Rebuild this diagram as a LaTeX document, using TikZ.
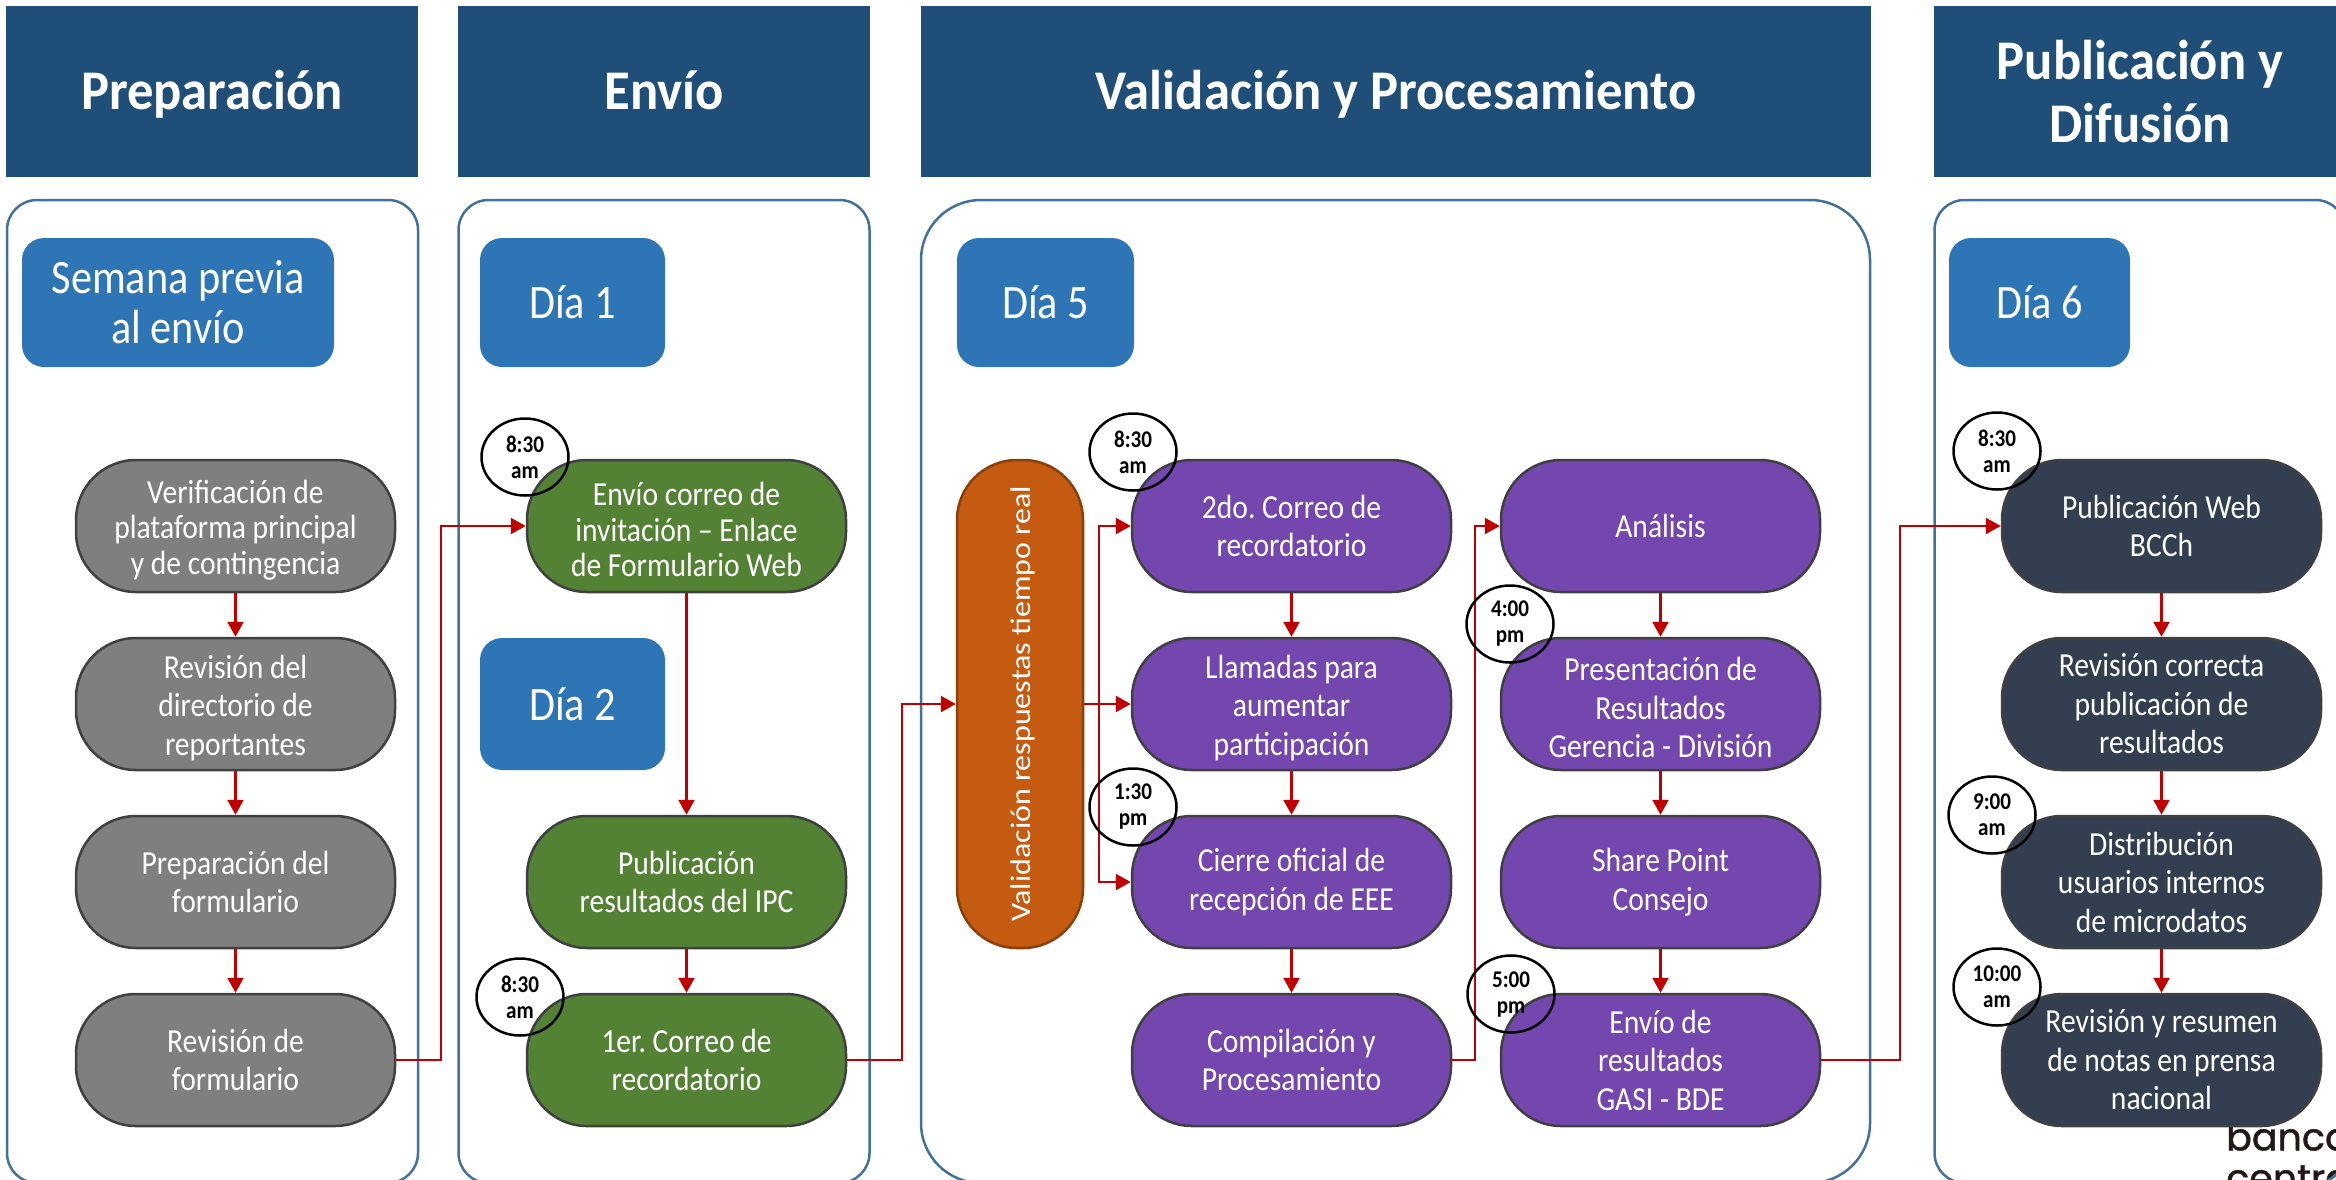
\documentclass[tikz,border=0pt]{standalone}
\usepackage{fontspec}
\setmainfont[FakeStretch=0.88]{Carlito}
\newfontfamily\widefont[FakeStretch=1.13]{Carlito}
\newfontfamily\headfont[FakeStretch=0.94]{Carlito}
\newfontfamily\logofont[FakeBold=1.2]{Poppins}
\newcommand{\lowline}{\rule{0pt}{31pt}}
\usetikzlibrary{arrows.meta,shapes.geometric}
\definecolor{head-blue}{HTML}{1F4E79}
\definecolor{day-blue}{HTML}{2E75B6}
\definecolor{panel-blue}{HTML}{41719C}
\definecolor{line-red}{HTML}{C00000}
\definecolor{step-gray}{HTML}{7F7F7F}
\definecolor{step-green}{HTML}{548235}
\definecolor{step-purple}{HTML}{7347AE}
\definecolor{step-dark}{HTML}{333F50}
\definecolor{step-orange}{HTML}{C55A11}
\definecolor{logo-black}{HTML}{231815}
\tikzstyle{head-node}=[fill=head-blue,text=white,font=\fontsize{56}{63}\headfont\bfseries,align=center,inner sep=0pt,minimum height=171pt]
\tikzstyle{head-line}=[text height=40pt,text depth=5pt]
\tikzstyle{panel-node}=[draw=panel-blue,line width=2.5pt,rounded corners=30pt,inner sep=0pt]
\tikzstyle{day-node}=[fill=day-blue,text=white,rounded corners=22pt,font=\fontsize{48}{50}\selectfont,align=center,inner sep=0pt]
\tikzstyle{step-node}=[draw=black!75,line width=2.5pt,text=white,rounded corners=60pt,font=\fontsize{33.6}{38.5}\selectfont,align=center,inner sep=0pt,minimum width=319pt,minimum height=132pt]
\tikzstyle{tight-text}=[font=\fontsize{33.6}{35.5}\selectfont]
\tikzstyle{time-node}=[draw=black,line width=2.5pt,ellipse,font=\fontsize{24}{26}\selectfont\bfseries,align=center,inner sep=0pt,minimum width=87pt,minimum height=77pt]
\tikzstyle{red-line}=[draw=line-red,line width=2.5pt]
\begin{document}
\frenchspacing
\begin{tikzpicture}[x=1pt,y=-1pt]
	\useasboundingbox (0,0) rectangle (2336,1179);
	\clip (0,0) rectangle (2336,1179);
	\node (l1)[anchor=north west,inner sep=0pt,align=left,text=logo-black,font=\fontsize{38}{41}\logofont] at (2226,1122) {banco\\central};
	\begin{scope}
	\node (p1)[panel-node,minimum width=411pt,minimum height=983pt] at (212.5,691.5) {};
	\node (p2)[panel-node,minimum width=411pt,minimum height=983pt] at (664,691.5) {};
	\node (p3)[panel-node,rounded corners=60pt,minimum width=949pt,minimum height=983pt] at (1395.5,691.5) {};
	\node (p4)[panel-node,minimum width=411pt,minimum height=983pt] at (2140,691.5) {};
	\end{scope}
	\begin{scope}
	\node (h1)[head-node,head-line,minimum width=412pt] at (212,91.5) {Preparación};
	\node (h2)[head-node,head-line,minimum width=412pt] at (664,91.5) {Envío};
	\node (h3)[head-node,head-line,minimum width=950pt] at (1396,91.5) {Validación y Procesamiento};
	\node (h4)[head-node,minimum width=412pt] at (2140,91.5) {Publicación y\\Difusión};
	\end{scope}
	\begin{scope}
	\node (d0)[day-node,minimum width=312pt,minimum height=129pt] at (178,302.5) {Semana previa\\al envío};
	\node (d1)[day-node,minimum width=185pt,minimum height=129pt] at (572.5,302.5) {Día 1};
	\node (d2)[day-node,minimum width=185pt,minimum height=132pt] at (572.5,704) {Día 2};
	\node (d5)[day-node,minimum width=177pt,minimum height=129pt] at (1045.5,302.5) {Día 5};
	\node (d6)[day-node,minimum width=181pt,minimum height=129pt] at (2039.5,302.5) {Día 6};
	\end{scope}
	\begin{scope}
	\node (g1)[step-node,tight-text,fill=step-gray] at (235.5,526) {\lowline Verificación de\\plataforma principal\\y de contingencia};
	\node (g2)[step-node,fill=step-gray] at (235.5,704) {\lowline Revisión del\\directorio de\\reportantes};
	\node (g3)[step-node,fill=step-gray] at (235.5,882) {Preparación del\\formulario};
	\node (g4)[step-node,fill=step-gray] at (235.5,1060) {Revisión de\\formulario};
	\node (e1)[step-node,tight-text,fill=step-green] at (686.5,526) {\lowline Envío correo de\\invitación – Enlace\\de Formulario Web};
	\node (e2)[step-node,fill=step-green] at (686.5,882) {Publicación\\resultados del IPC};
	\node (e3)[step-node,fill=step-green] at (686.5,1060) {1er. Correo de\\recordatorio};
	\node (v1)[step-node,draw=step-orange!70!black,fill=step-orange,minimum width=126pt,minimum height=488pt,font=\fontsize{28.3}{30}\widefont] at (1020,704) {\hspace*{6pt}\rotatebox{90}{Validación respuestas tiempo real}};
	\node (m1)[step-node,fill=step-purple] at (1291.5,526) {2do. Correo de\\recordatorio};
	\node (m2)[step-node,fill=step-purple] at (1291.5,704) {\lowline Llamadas para\\aumentar\\participación};
	\node (m3)[step-node,fill=step-purple] at (1291.5,882) {Cierre oficial de\\recepción de EEE};
	\node (m4)[step-node,fill=step-purple] at (1291.5,1060) {Compilación y\\Procesamiento};
	\node (n1)[step-node,fill=step-purple] at (1660.5,526) {Análisis};
	\node (n2)[step-node,fill=step-purple] at (1660.5,704) {\lowline Presentación de\\Resultados\\Gerencia - División};
	\node (n3)[step-node,fill=step-purple] at (1660.5,882) {Share Point\\Consejo};
	\node (n4)[step-node,fill=step-purple] at (1660.5,1060) {Envío de\\resultados\\GASI - BDE};
	\node (b1)[step-node,fill=step-dark] at (2161.5,526) {Publicación Web\\BCCh};
	\node (b2)[step-node,fill=step-dark] at (2161.5,704) {Revisión correcta\\publicación de\\resultados};
	\node (b3)[step-node,fill=step-dark] at (2161.5,882) {Distribución\\usuarios internos\\de microdatos};
	\node (b4)[step-node,fill=step-dark] at (2161.5,1060) {Revisión y resumen\\de notas en prensa\\nacional};
	\end{scope}
	\begin{scope}
	\coordinate (j1) at (441,1060);
	\coordinate (j2) at (902,1060);
	\coordinate (j3) at (1099,704);
	\coordinate (j4) at (1475,1060);
	\coordinate (j5) at (1900,1060);
	\end{scope}
	\begin{scope}[>={Triangle[length=15pt,width=16pt]}, every edge/.style=red-line]
	\path [->] (g1) edge node {} (g2);
	\path [->] (g2) edge node {} (g3);
	\path [->] (g3) edge node {} (g4);
	\path [->] (e1) edge node {} (e2);
	\path [->] (e2) edge node {} (e3);
	\path [->] (m1) edge node {} (m2);
	\path [->] (m2) edge node {} (m3);
	\path [->] (m3) edge node {} (m4);
	\path [->] (n1) edge node {} (n2);
	\path [->] (n2) edge node {} (n3);
	\path [->] (n3) edge node {} (n4);
	\path [->] (b1) edge node {} (b2);
	\path [->] (b2) edge node {} (b3);
	\path [->] (b3) edge node {} (b4);
	\path [->] (v1) edge node {} (m2);
	\draw [->,red-line] (g4) -- (j1) |- (e1);
	\draw [->,red-line] (e3) -- (j2) |- (v1);
	\draw [->,red-line] (j3) |- (m1);
	\draw [->,red-line] (j3) |- (m3);
	\draw [->,red-line] (m4) -- (j4) |- (n1);
	\draw [->,red-line] (n4) -- (j5) |- (b1);
	\end{scope}
	\begin{scope}
	\node (t1)[time-node] at (525,457) {8:30\\am};
	\node (t2)[time-node] at (520,997) {8:30\\am};
	\node (t3)[time-node] at (1133,452) {8:30\\am};
	\node (t4)[time-node] at (1133,807) {1:30\\pm};
	\node (t5)[time-node] at (1510,624) {4:00\\pm};
	\node (t6)[time-node] at (1511,994) {5:00\\pm};
	\node (t7)[time-node] at (1997,451) {8:30\\am};
	\node (t8)[time-node] at (1992,815) {9:00\\am};
	\node (t9)[time-node] at (1997,987) {10:00\\am};
	\end{scope}
\end{tikzpicture}
\end{document}
